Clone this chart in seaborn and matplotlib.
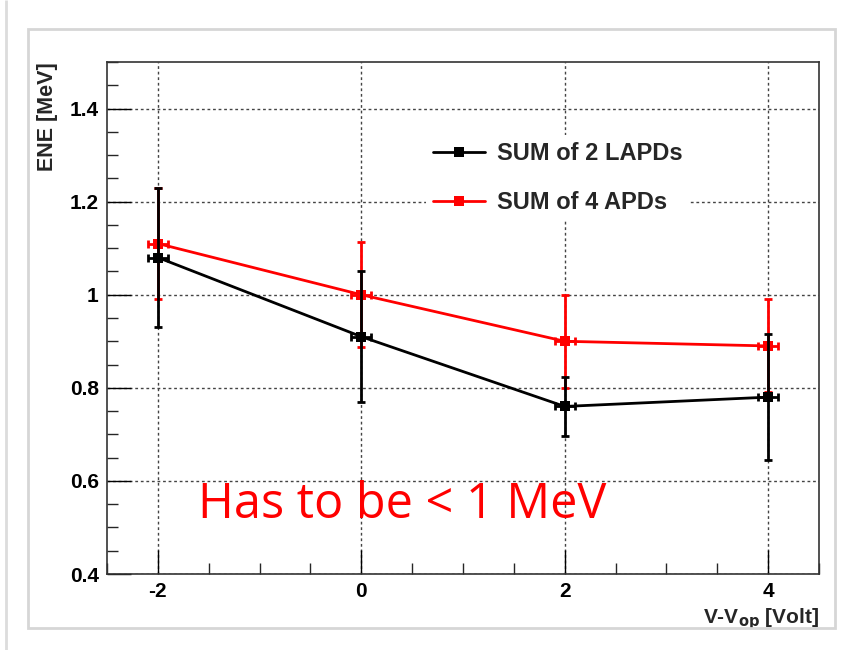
import numpy as np
import pandas as pd
import seaborn as sns
import matplotlib.pyplot as plt
from matplotlib.patches import Rectangle
from matplotlib.ticker import MultipleLocator

# Dados
volt = [-2, 0, 2, 4]
ene_lapd = [1.08, 0.91, 0.76, 0.78]
err_lapd = [0.15, 0.14, 0.063, 0.135]
ene_apd = [1.11, 1.00, 0.90, 0.89]
err_apd = [0.12, 0.113, 0.10, 0.10]
xerr = [0.1, 0.1, 0.1, 0.1]

serie1 = "SUM of 2 LAPDs"
serie2 = "SUM of 4 APDs"

df = pd.DataFrame({
    "volt": volt * 2,
    "ene": ene_lapd + ene_apd,
    "serie": [serie1] * 4 + [serie2] * 4,
})

sns.set_theme(style="white")
plt.rcParams["font.family"] = ["Liberation Sans", "DejaVu Sans"]
plt.rcParams["font.weight"] = "bold"
plt.rcParams["axes.unicode_minus"] = False
plt.rcParams["mathtext.default"] = "bf"
plt.rcParams["xtick.labelsize"] = 15
plt.rcParams["ytick.labelsize"] = 15

fig = plt.figure(figsize=(8.49, 6.5), dpi=100)
ax = fig.add_axes([0.126, 0.1169, 0.8387, 0.7877])

# Moldura do canvas (estilo ROOT)
fig.patches.append(Rectangle((28 / 849, 22 / 650), 807 / 849, 599 / 650,
                             transform=fig.transFigure, fill=False,
                             edgecolor="#d6d6d6", lw=2))
fig.patches.append(Rectangle((6 / 849, 0), 0.0, 1, transform=fig.transFigure,
                             fill=False, edgecolor="#dcdcdc", lw=2))

palette = {serie1: "black", serie2: "red"}
sns.lineplot(data=df, x="volt", y="ene", hue="serie", palette=palette,
             marker="s", markersize=7, markeredgewidth=0, linewidth=2,
             ax=ax, zorder=3)

ax.errorbar(volt, ene_lapd, yerr=err_lapd, xerr=xerr, fmt="none",
            ecolor="black", elinewidth=2, capsize=3, capthick=2, zorder=4)
ax.errorbar(volt, ene_apd, yerr=err_apd, xerr=xerr, fmt="none",
            ecolor="red", elinewidth=2, capsize=3, capthick=2, zorder=2)

ax.set_xlim(-2.5, 4.5)
ax.set_ylim(0.4, 1.5)
ax.xaxis.set_major_locator(MultipleLocator(2))
ax.xaxis.set_minor_locator(MultipleLocator(0.5))
ax.yaxis.set_minor_locator(MultipleLocator(0.05))
ax.set_yticks([0.4, 0.6, 0.8, 1.0, 1.2, 1.4])
ax.set_yticklabels(["0.4", "0.6", "0.8", "1", "1.2", "1.4"])

ax.tick_params(which="major", direction="in", length=17, width=1,
               labelsize=15, colors="black", top=False, right=False,
               bottom=True, left=True, pad=6)
ax.tick_params(which="minor", direction="in", length=8, width=1,
               top=False, right=False, bottom=True, left=True)
for lbl in ax.get_xticklabels() + ax.get_yticklabels():
    lbl.set_fontweight("bold")
    lbl.set_fontsize(15)

ax.grid(True, which="major", linestyle=(0, (2, 2)), color="#444444", lw=1)
ax.set_axisbelow(True)
for s in ax.spines.values():
    s.set_color("#333333")
    s.set_linewidth(1.2)

ax.set_xlabel("V-V$_{op}$ [Volt]", fontsize=15, fontweight="bold", ha="right")
ax.xaxis.set_label_coords(1.0, -0.062)
ax.set_ylabel("ENE [MeV]", fontsize=15.5, fontweight="bold", loc="top",
              labelpad=8)

leg = ax.legend(loc="upper left", bbox_to_anchor=(0.432, 0.88), frameon=True,
                prop={"size": 17, "weight": "bold"}, handlelength=2.2,
                labelspacing=1.1, handletextpad=0.5, borderpad=0.3,
                fancybox=False)
leg.get_frame().set_facecolor("white")
leg.get_frame().set_edgecolor("none")
leg.get_frame().set_alpha(1)

fig.text(198 / 849, (650 - 518) / 650, "Has to be < 1 MeV", color="red",
         fontsize=35, fontweight="normal", family=["Open Sans", "DejaVu Sans"])

fig.savefig("out.png", dpi=100)
